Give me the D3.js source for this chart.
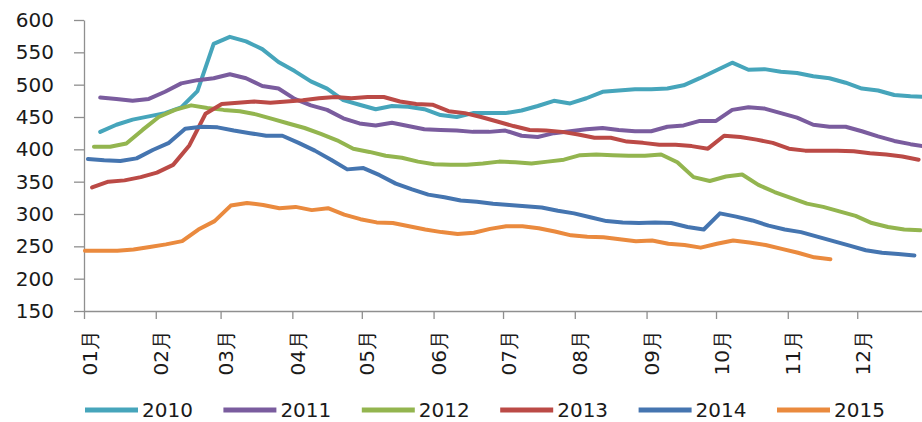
<!DOCTYPE html>
<html><head><meta charset="utf-8">
<script src="https://cdn.jsdelivr.net/npm/d3@7"></script>
<style>
html,body{margin:0;padding:0;background:#fff;}
svg{display:block;}
text{font-family:"DejaVu Sans",sans-serif;}
</style></head>
<body><svg id="c" width="922" height="422"></svg>
<script>
const seriesNames = ["2010","2011","2012","2013","2014","2015"];
const colors = ["#46a5bb","#7a5c9e","#93b54f","#bb4a46","#4575b0","#ea8a3e"];
// first data point: day of year offset (weekly data)
const startDays = [7, 7, 4.3, 3.5, 1.7, 0.4];
const yTicks = [150,200,250,300,350,400,450,500,550,600];
const monthLabels = ["01月","02月","03月","04月","05月","06月","07月","08月","09月","10月","11月","12月"];

const s2010 = [427,438,446,451,456,465,490,563,574,567,555,535,521,505,494,476,469,462,467,466,462,453,450,456,456,456,460,467,475,471,479,489,491,493,493,494,499,510,522,534,523,524,520,518,513,510,503,494,491,484,482,481];
const s2011 = [480,478,475,478,489,502,507,510,516,510,498,494,478,468,461,448,440,437,441,436,431,430,429,427,427,429,421,419,425,428,431,433,430,428,428,435,437,444,444,461,465,463,456,449,438,435,435,428,420,413,408,404];
const s2012 = [404,404,409,430,450,461,468,464,461,459,454,447,440,433,424,414,401,396,390,387,381,377,376,376,378,381,380,378,381,384,391,392,391,390,390,392,380,357,351,358,361,345,334,325,316,311,304,297,286,280,276,275];
const s2013 = [341,350,352,357,364,376,406,455,470,472,474,472,474,476,479,481,479,481,481,474,470,469,459,456,450,443,436,430,429,427,423,418,418,412,410,407,407,405,401,421,419,415,410,401,398,398,398,397,394,392,389,384];
const s2014 = [385,383,382,386,399,410,432,435,434,429,425,421,421,410,398,384,369,371,360,347,338,330,326,321,319,316,314,312,310,305,301,295,289,287,286,287,286,280,276,301,296,290,282,276,272,265,258,251,244,240,238,236];
const s2015 = [243,243,243,245,249,253,258,276,289,313,317,314,309,311,306,309,299,292,287,286,281,276,272,269,271,277,281,281,278,273,267,265,264,261,258,259,254,252,248,254,259,256,252,246,240,233,230];
const allSeries = [s2010,s2011,s2012,s2013,s2014,s2015];

const svg = d3.select("#c");
const base = new Date(2001,0,1);
const end = new Date(2002,0,1);
const x = d3.scaleTime().domain([base, end]).range([84, 929]);
const y = d3.scaleLinear().domain([150,600]).range([311, 20]);
const axisColor = "#8f8f8f";

const gy = svg.append("g").attr("transform","translate(84,0)")
  .call(d3.axisLeft(y).tickValues(yTicks).tickSize(10).tickSizeOuter(0).tickPadding(20).tickFormat(d3.format("d")));
gy.selectAll("text").attr("font-size",20).attr("fill","#1a1a1a");

const months = d3.timeMonth.range(base, end);
const gx = svg.append("g").attr("transform","translate(0,311)")
  .call(d3.axisBottom(x).tickValues(months).tickSize(8).tickSizeOuter(0)
    .tickFormat(d=>monthLabels[d.getMonth()]));
gx.selectAll("text").attr("font-size",20).attr("fill","#1a1a1a")
  .attr("text-anchor","end").attr("transform","rotate(-90)")
  .attr("x",-19).attr("y",5).attr("dy","0.35em");

svg.selectAll(".domain, .tick line").attr("stroke",axisColor).attr("stroke-width",1.3);

const line = d3.line()
  .x(d=>x(d.date)).y(d=>y(d.v));

allSeries.forEach((vals,k)=>{
  const pts = vals.map((v,i)=>({date:new Date(base.getTime()+(startDays[k]+7*i)*864e5), v}));
  svg.append("path").datum(pts).attr("d",line)
    .attr("fill","none").attr("stroke",colors[k]).attr("stroke-width",4)
    .attr("stroke-linejoin","round").attr("stroke-linecap","round");
});

// legend
const lg = svg.append("g");
seriesNames.forEach((n,k)=>{
  const lx = 85 + k*138.4;
  lg.append("line").attr("x1",lx).attr("x2",lx+53).attr("y1",410).attr("y2",410)
    .attr("stroke",colors[k]).attr("stroke-width",5);
  lg.append("text").attr("x",lx+57).attr("y",417).attr("font-size",20).attr("fill","#1a1a1a").text(n);
});
</script></body></html>
